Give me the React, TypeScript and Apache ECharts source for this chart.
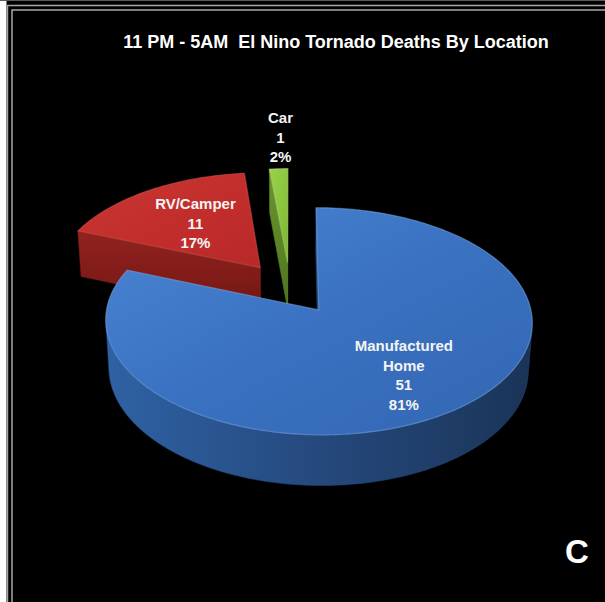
import React, { useEffect, useRef } from "react";
import * as echarts from "echarts";

// ---- data ----
const TITLE = "11 PM - 5AM  El Nino Tornado Deaths By Location";
const CATEGORIES = ["Manufactured\nHome", "RV/Camper", "Car"];
const DEATHS = [51, 11, 1];
const CORNER_LETTER = "C";

// ---- styles (not data) ----
const TOP_FILLS = [
  ["#4a85d2", "#3a72c1", "#3266b2"],
  ["#cc3734", "#c22e2c", "#b8292a"],
  ["#9ad14a", "#8cc63f", "#7fb535"],
];
const WALL_FILLS = [
  ["#2f62a4", "#25497d", "#1a3457"],
  ["#92231f", "#821c19", "#6e1613"],
  ["#6a9530", "#5c8527", "#4e7220"],
];
const RIM_STROKES = ["rgba(120,170,235,0.55)", "rgba(230,110,100,0.35)", "rgba(200,235,140,0.4)"];
const LABEL_RADIUS = [0.66, 0.56, 1.38];

const GEOM = { cx: 290, cy: 288, r: 208, h: 56, dist: 1803, explode: 50, phi: (31.3 * Math.PI) / 180 };
const FONT = "'Liberation Sans', Arial, Helvetica, sans-serif";

function project(X: number, Y: number, Z: number): [number, number] {
  const sp = Math.sin(GEOM.phi);
  const cp = Math.cos(GEOM.phi);
  const d = -Y * sp + Z * cp;
  const s = GEOM.dist / (GEOM.dist + d);
  return [GEOM.cx + X * s, GEOM.cy - (Y * cp + Z * sp) * s];
}

function frontFacing(n: [number, number, number], P: [number, number, number]) {
  const cam = [0, GEOM.dist * Math.sin(GEOM.phi), -GEOM.dist * Math.cos(GEOM.phi)];
  return n[0] * (cam[0] - P[0]) + n[1] * (cam[1] - P[1]) + n[2] * (cam[2] - P[2]) > 0;
}

function sliceAngles(i: number) {
  const total = DEATHS.reduce((a, b) => a + b, 0);
  let start = 0;
  for (let k = 0; k < i; k++) start += DEATHS[k];
  const a0 = (start / total) * Math.PI * 2;
  const a1 = ((start + DEATHS[i]) / total) * Math.PI * 2;
  return { a0, a1, m: (a0 + a1) / 2, total };
}

function grad(stops: string[], x2 = 1, y2 = 0) {
  return {
    type: "linear",
    x: 0,
    y: 0,
    x2,
    y2,
    colorStops: stops.map((c, k) => ({ offset: k / (stops.length - 1), color: c })),
  };
}

export default function App() {
  const ref = useRef<HTMLDivElement>(null);

  useEffect(() => {
    if (!ref.current) return;
    const chart = echarts.init(ref.current, undefined, { renderer: "svg" });

    // depth rank of slices (far first)
    const depths = DEATHS.map((_, i) => {
      const { m } = sliceAngles(i);
      return GEOM.explode * Math.cos(m) + (2 / 3) * GEOM.r * Math.cos(m);
    });
    const order = DEATHS.map((_, i) => i).sort((a, b) => depths[b] - depths[a]);
    const rank: number[] = [];
    order.forEach((idx, r) => (rank[idx] = r));

    const renderItem = (params: any, api: any) => {
      const i = params.dataIndex;
      const value = api.value(0);
      const { a0, a1, m, total } = sliceAngles(i);
      const R = GEOM.r;
      const H = GEOM.h;
      const ox = GEOM.explode * Math.sin(m);
      const oz = GEOM.explode * Math.cos(m);
      const rim = (t: number, Y: number, r = R): [number, number, number] => [
        ox + r * Math.sin(t),
        Y,
        oz + r * Math.cos(t),
      ];
      const P = (p: [number, number, number]) => project(p[0], p[1], p[2]);
      const steps = Math.max(4, Math.ceil(((a1 - a0) * 180) / Math.PI));
      const thetas: number[] = [];
      for (let k = 0; k <= steps; k++) thetas.push(a0 + ((a1 - a0) * k) / steps);

      const base = rank[i] * 10;
      const children: any[] = [];

      // outer wall: front-facing runs
      let run: number[] = [];
      const flush = () => {
        if (run.length >= 2) {
          const top = run.map((t) => P(rim(t, 0)));
          const bot = run.map((t) => P(rim(t, -H))).reverse();
          children.push({
            type: "polygon",
            z2: base + 1,
            shape: { points: top.concat(bot) },
            style: { fill: grad(WALL_FILLS[i]), stroke: WALL_FILLS[i][1], lineWidth: 0.5 },
          });
        }
        run = [];
      };
      thetas.forEach((t) => {
        const n: [number, number, number] = [Math.sin(t), 0, Math.cos(t)];
        if (frontFacing(n, rim(t, -H / 2))) run.push(t);
        else flush();
      });
      flush();

      // cut faces
      const apexTop: [number, number, number] = [ox, 0, oz];
      const apexBot: [number, number, number] = [ox, -H, oz];
      const faces: { t: number; n: [number, number, number] }[] = [
        { t: a0, n: [-Math.cos(a0), 0, Math.sin(a0)] },
        { t: a1, n: [Math.cos(a1), 0, -Math.sin(a1)] },
      ];
      faces.forEach((f) => {
        const mid = rim(f.t, -H / 2, R / 2);
        if (!frontFacing(f.n, mid)) return;
        children.push({
          type: "polygon",
          z2: base + 2,
          shape: { points: [P(apexTop), P(rim(f.t, 0)), P(rim(f.t, -H)), P(apexBot)] },
          style: { fill: grad(WALL_FILLS[i], 0, 1), stroke: WALL_FILLS[i][1], lineWidth: 0.5 },
        });
      });

      // top face
      const topPts = [P(apexTop)].concat(thetas.map((t) => P(rim(t, 0))));
      children.push({
        type: "polygon",
        z2: base + 5,
        shape: { points: topPts },
        style: { fill: grad(TOP_FILLS[i], 1, 1), stroke: RIM_STROKES[i], lineWidth: 1.2 },
      });

      // label
      const lp = P(rim(m, 0, R * LABEL_RADIUS[i]));
      const pct = Math.round((value / total) * 100);
      children.push({
        type: "text",
        z2: 200,
        x: lp[0] + (i === 2 ? 5 : 0),
        y: lp[1],
        style: {
          text: `${CATEGORIES[i]}\n${value}\n${pct}%`,
          fill: "#f4f4f4",
          font: `bold 15px ${FONT}`,
          lineHeight: 19.5,
          align: "center",
          verticalAlign: "middle",
        },
      });

      return { type: "group", children };
    };

    chart.setOption({
      animation: false,
      backgroundColor: "#000000",
      series: [
        {
          type: "custom",
          coordinateSystem: "none",
          renderItem,
          data: DEATHS.map((v, i) => ({ value: v, name: CATEGORIES[i] })),
        },
      ],
      graphic: [
        { type: "rect", left: 0, top: 0, shape: { x: 0, y: 0, width: 6.5, height: 602 }, style: { fill: "#ffffff" }, z: 10 },
        {
          type: "polyline",
          shape: { points: [[7.5, 602], [7.5, 5.5], [605, 5.5]] },
          style: { stroke: "#a6a6a6", lineWidth: 1.5, fill: null },
          z: 10,
        },
        {
          type: "polyline",
          shape: { points: [[12, 602], [12, 10], [605, 10]] },
          style: { stroke: "#a6a6a6", lineWidth: 1.5, fill: null },
          z: 10,
        },
        {
          type: "line",
          shape: { x1: 0, y1: 0.5, x2: 605, y2: 0.5 },
          style: { stroke: "#5a5a5a", lineWidth: 1 },
          z: 10,
        },
        {
          type: "text",
          x: 336,
          y: 42,
          z: 10,
          style: {
            text: TITLE,
            fill: "#ffffff",
            font: `bold 18px ${FONT}`,
            align: "center",
            verticalAlign: "middle",
          },
        },
        {
          type: "text",
          x: 577,
          y: 551,
          z: 10,
          style: {
            text: CORNER_LETTER,
            fill: "#ffffff",
            font: `bold 33px ${FONT}`,
            align: "center",
            verticalAlign: "middle",
          },
        },
      ],
    });

    return () => chart.dispose();
  }, []);

  return (
    <div
      ref={ref}
      style={{ position: "absolute", left: 0, top: 0, width: 605, height: 602 }}
    />
  );
}
